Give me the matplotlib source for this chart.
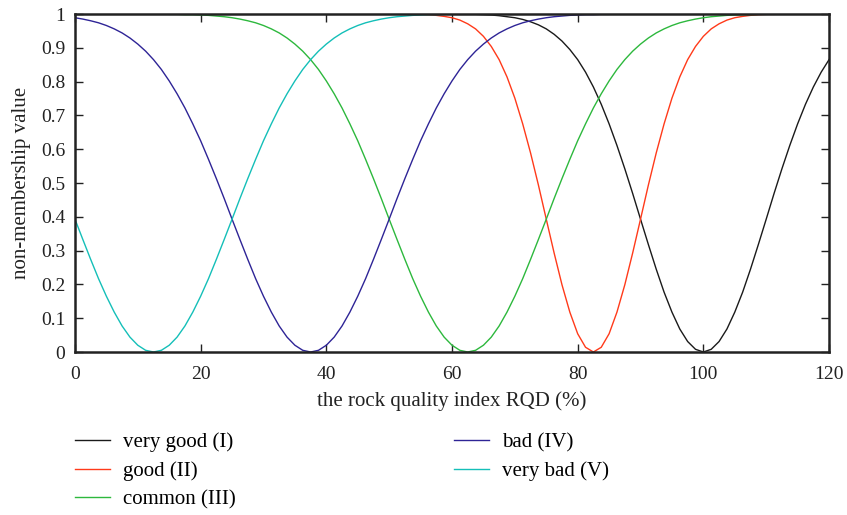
import numpy as np
import matplotlib
matplotlib.use('Agg')
import matplotlib.pyplot as plt

plt.rcParams['font.family'] = ['Liberation Serif', 'DejaVu Serif']

# RQD values (%), read every 1.25
rqd = np.arange(0, 120.001, 1.25)

# one row = 10 % of RQD (8 readings), last value at RQD = 120
very_good = [1, 1, 1, 1, 1, 1, 1, 1,
             1, 1, 1, 1, 1, 1, 1, 1,
             1, 1, 1, 1, 1, 1, 1, 1,
             1, 1, 1, 1, 1, 1, 1, 1,
             1, 1, 1, 1, 1, 1, 1, 1,
             1, 1, 1, 1, 1, 1, 1, 1,
             1, 0.999, 0.999, 0.999, 0.998, 0.997, 0.995, 0.992,
             0.989, 0.984, 0.977, 0.968, 0.956, 0.940, 0.920, 0.895,
             0.865, 0.828, 0.784, 0.733, 0.675, 0.611, 0.542, 0.469,
             0.393, 0.318, 0.245, 0.177, 0.118, 0.068, 0.031, 0.008,
             0, 0.008, 0.031, 0.068, 0.118, 0.177, 0.245, 0.318,
             0.393, 0.469, 0.542, 0.611, 0.675, 0.733, 0.784, 0.828,
             0.865]
good = [1, 1, 1, 1, 1, 1, 1, 1,
        1, 1, 1, 1, 1, 1, 1, 1,
        1, 1, 1, 1, 1, 1, 1, 1,
        1, 1, 1, 1, 1, 1, 1, 1,
        1, 1, 1, 1, 1, 1, 1, 1,
        1, 1, 1, 0.999, 0.999, 0.998, 0.996, 0.993,
        0.989, 0.982, 0.971, 0.956, 0.934, 0.904, 0.865, 0.814,
        0.751, 0.675, 0.589, 0.494, 0.393, 0.293, 0.199, 0.118,
        0.054, 0.014, 0, 0.014, 0.054, 0.118, 0.199, 0.293,
        0.393, 0.494, 0.589, 0.675, 0.751, 0.814, 0.865, 0.904,
        0.934, 0.956, 0.971, 0.982, 0.989, 0.993, 0.996, 0.998,
        0.999, 0.999, 1, 1, 1, 1, 1, 1,
        1]
common = [1, 1, 1, 1, 1, 1, 1, 1,
          1, 1, 1, 1, 0.999, 0.999, 0.998, 0.998,
          0.997, 0.996, 0.994, 0.992, 0.989, 0.985, 0.980, 0.974,
          0.966, 0.956, 0.944, 0.929, 0.911, 0.890, 0.865, 0.836,
          0.802, 0.764, 0.722, 0.675, 0.625, 0.570, 0.513, 0.454,
          0.393, 0.333, 0.274, 0.217, 0.165, 0.118, 0.077, 0.044,
          0.020, 0.005, 0, 0.005, 0.020, 0.044, 0.077, 0.118,
          0.165, 0.217, 0.274, 0.333, 0.393, 0.454, 0.513, 0.570,
          0.625, 0.675, 0.722, 0.764, 0.802, 0.836, 0.865, 0.890,
          0.911, 0.929, 0.944, 0.956, 0.966, 0.974, 0.980, 0.985,
          0.989, 0.992, 0.994, 0.996, 0.997, 0.998, 0.998, 0.999,
          0.999, 1, 1, 1, 1, 1, 1, 1,
          1]
bad = [0.989, 0.985, 0.980, 0.974, 0.966, 0.956, 0.944, 0.929,
       0.911, 0.890, 0.865, 0.836, 0.802, 0.764, 0.722, 0.675,
       0.625, 0.570, 0.513, 0.454, 0.393, 0.333, 0.274, 0.217,
       0.165, 0.118, 0.077, 0.044, 0.020, 0.005, 0, 0.005,
       0.020, 0.044, 0.077, 0.118, 0.165, 0.217, 0.274, 0.333,
       0.393, 0.454, 0.513, 0.570, 0.625, 0.675, 0.722, 0.764,
       0.802, 0.836, 0.865, 0.890, 0.911, 0.929, 0.944, 0.956,
       0.966, 0.974, 0.980, 0.985, 0.989, 0.992, 0.994, 0.996,
       0.997, 0.998, 0.998, 0.999, 0.999, 1, 1, 1,
       1, 1, 1, 1, 1, 1, 1, 1,
       1, 1, 1, 1, 1, 1, 1, 1,
       1, 1, 1, 1, 1, 1, 1, 1,
       1]
very_bad = [0.393, 0.333, 0.274, 0.217, 0.165, 0.118, 0.077, 0.044,
            0.020, 0.005, 0, 0.005, 0.020, 0.044, 0.077, 0.118,
            0.165, 0.217, 0.274, 0.333, 0.393, 0.454, 0.513, 0.570,
            0.625, 0.675, 0.722, 0.764, 0.802, 0.836, 0.865, 0.890,
            0.911, 0.929, 0.944, 0.956, 0.966, 0.974, 0.980, 0.985,
            0.989, 0.992, 0.994, 0.996, 0.997, 0.998, 0.998, 0.999,
            0.999, 1, 1, 1, 1, 1, 1, 1,
            1, 1, 1, 1, 1, 1, 1, 1,
            1, 1, 1, 1, 1, 1, 1, 1,
            1, 1, 1, 1, 1, 1, 1, 1,
            1, 1, 1, 1, 1, 1, 1, 1,
            1, 1, 1, 1, 1, 1, 1, 1,
            1]

labels = ['very good (I)', 'good (II)', 'common (III)', 'bad (IV)', 'very bad (V)']
colors = ['#1a1a1a', '#ff3a1a', '#2db83d', '#2e2496', '#14bfb8']

fig = plt.figure(figsize=(8.47, 5.15), dpi=100)
ax = fig.add_axes([0.0885, 0.3165, 0.8903, 0.6563])

for y, lab, c in zip([very_good, good, common, bad, very_bad], labels, colors):
    ax.plot(rqd, y, color=c, lw=1.0, label=lab)

ax.set_xlim(0, 120)
ax.set_ylim(0, 1)
ax.set_xticks([0, 20, 40, 60, 80, 100, 120])
ax.set_yticks(np.arange(0, 1.01, 0.1))
ax.set_yticklabels(['0', '0.1', '0.2', '0.3', '0.4', '0.5', '0.6', '0.7', '0.8', '0.9', '1'])
ax.tick_params(direction='in', length=6, width=1, labelsize=14, colors='#222222',
               top=True, right=True)
ax.tick_params(axis='x', pad=10)
ax.tick_params(axis='y', pad=7)
for s in ax.spines.values():
    s.set_linewidth(1.8)
    s.set_color('#222222')

ax.set_xlabel('the rock quality index RQD (%)', fontsize=15, color='#222222', labelpad=6)
ax.set_ylabel('non-membership value', fontsize=15, color='#222222', labelpad=7)

fig.legend(loc='upper left', bbox_to_anchor=(0.0885, 0.160), ncol=2, frameon=False,
           fontsize=15, handlelength=1.68, handletextpad=0.63, columnspacing=10.45,
           labelspacing=0.43, borderpad=0, borderaxespad=0)

fig.savefig('out.png', dpi=100)
